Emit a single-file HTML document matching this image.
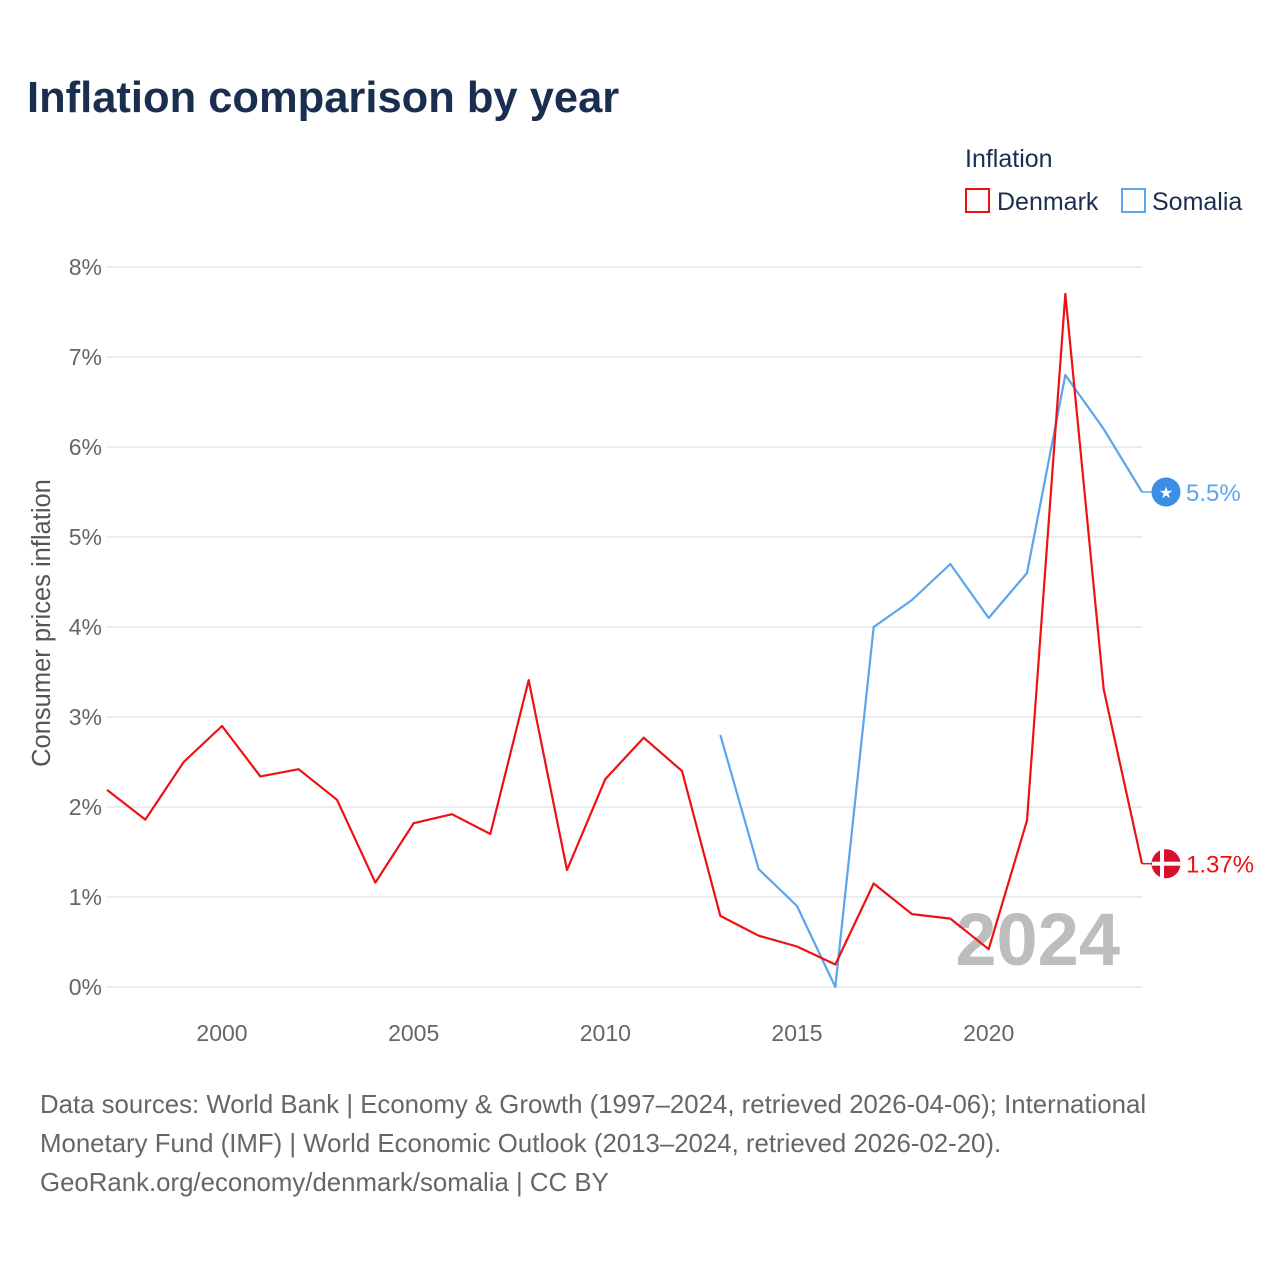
<!DOCTYPE html>
<html><head><meta charset="utf-8"><style>
body{margin:0;background:#fff;font-family:"Liberation Sans",sans-serif;}
svg text{font-family:"Liberation Sans",sans-serif;}
</style></head><body>
<svg id="c" width="1280" height="1280" xmlns="http://www.w3.org/2000/svg">
<text x="27" y="112" font-size="43.5" font-weight="bold" fill="#1a2e4f">Inflation comparison by year</text>
<g>
<text x="965" y="167" font-size="25" fill="#1a2e4f">Inflation</text>
<g><rect x="966" y="189" width="23" height="23" fill="none" stroke="#ee1111" stroke-width="2"/><text x="997" y="210" font-size="25" fill="#1a2e4f">Denmark</text></g>
<g><rect x="1122" y="189" width="23" height="23" fill="none" stroke="#5aa5ec" stroke-width="2"/><text x="1152" y="210" font-size="25" fill="#1a2e4f">Somalia</text></g>
</g>
<g id="grid"></g>
<g id="xt"></g>
<text transform="translate(50,623) rotate(-90)" text-anchor="middle" font-size="25.5" fill="#555">Consumer prices inflation</text>
<text x="1120" y="965" text-anchor="end" font-size="74" font-weight="bold" fill="#bdbdbd">2024</text>
<g id="series"></g>
<text x="40" y="1113" font-size="25.8" fill="#666">Data sources: World Bank | Economy &amp; Growth (1997–2024, retrieved 2026-04-06); International</text>
<text x="40" y="1152" font-size="25.8" fill="#666">Monetary Fund (IMF) | World Economic Outlook (2013–2024, retrieved 2026-02-20).</text>
<text x="40" y="1191" font-size="25.8" fill="#666">GeoRank.org/economy/denmark/somalia | CC BY</text>
</svg>
<script>
const yTicks=[0,1,2,3,4,5,6,7,8];
const xTicks=[2000,2005,2010,2015,2020];
const dkYears=[1997,1998,1999,2000,2001,2002,2003,2004,2005,2006,2007,2008,2009,2010,2011,2012,2013,2014,2015,2016,2017,2018,2019,2020,2021,2022,2023,2024];
const dkValues=[2.19,1.86,2.5,2.9,2.34,2.42,2.08,1.16,1.82,1.92,1.7,3.41,1.3,2.31,2.77,2.4,0.79,0.57,0.45,0.25,1.15,0.81,0.76,0.42,1.85,7.7,3.31,1.37];
const soYears=[2013,2014,2015,2016,2017,2018,2019,2020,2021,2022,2023,2024];
const soValues=[2.8,1.31,0.9,0,4.0,4.3,4.7,4.1,4.6,6.8,6.2,5.5];
const ns="http://www.w3.org/2000/svg";
const X=y=>107+(y-1997)*(1142-107)/27;
const Y=v=>987-v*90;
function mk(t,a,p){const e=document.createElementNS(ns,t);for(const k in a)e.setAttribute(k,a[k]);p.appendChild(e);return e;}
const g=document.getElementById('grid');
yTicks.forEach(t=>{
 const l=mk('line',{x1:107,x2:1142,y1:Y(t),y2:Y(t),stroke:'#e6e6e6','stroke-width':1.5},g);
 
 
 const tx=mk('text',{x:102,y:Y(t)+8,'text-anchor':'end','font-size':23,fill:'#666'},g);
 tx.textContent=t+'%';
 
 
});
const xt=document.getElementById('xt');
xTicks.forEach(t=>{
 const tx=mk('text',{x:X(t),y:1041,'text-anchor':'middle','font-size':23,fill:'#666'},xt);
 tx.textContent=t;
 
 
});
const s=document.getElementById('series');
function line(years,vals,col,name,label){
 const d=years.map((y,i)=>(i?'L':'M')+X(y)+','+Y(vals[i])).join('');
 const p=mk('path',{d:d,fill:'none',stroke:col,'stroke-width':2.2,'stroke-linejoin':'round'},s);
 
 
 const v=vals[vals.length-1],yy=Y(v),x0=X(years[years.length-1]);
 mk('line',{x1:x0,x2:1156,y1:yy,y2:yy,stroke:col,'stroke-width':1.5},s);
 const c=mk('circle',{cx:1166,cy:yy,r:14.5,fill:name==='denmark'?'#d8102e':'#3a8ee6'},s);
 
 
 if(name==='denmark'){mk('rect',{x:1152,y:yy-2,width:29,height:4,fill:'#fff'},s);mk('rect',{x:1160,y:yy-14.5,width:4,height:29,fill:'#fff'},s);}
 else{const st=mk('text',{x:1166,y:yy+6,'text-anchor':'middle','font-size':16,fill:'#fff'},s);st.textContent='★';}
 const t=mk('text',{x:1186,y:yy+9,'font-size':24,fill:col},s);
 t.textContent=label;
 
 
}
line(soYears,soValues,'#5aa5ec','somalia','5.5%');
line(dkYears,dkValues,'#ee1111','denmark','1.37%');
</script>
</body></html>
